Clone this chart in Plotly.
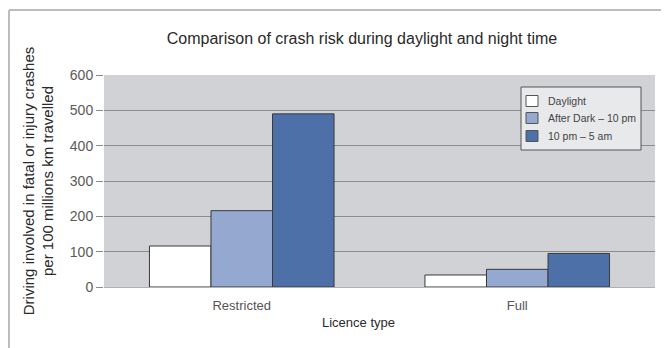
import plotly.graph_objects as go

categories = ["Restricted", "Full"]
series_names = ["Daylight", "After Dark – 10 pm", "10 pm – 5 am"]
daylight = [116, 34]
after_dark = [216, 50]
night = [490, 95]
colors = ["#ffffff", "#94a8d0", "#4e70a8"]

OFF = 8  # page body margin
W, H = 669 - OFF, 348 - OFF
# plot area in window pixels: x 104..655, y 75..287
PX0, PX1, PY0, PY1 = 104 - OFF, 655 - OFF, 75 - OFF, 287 - OFF
L, R, T, B = PX0, W - PX1, PY0, H - PY1
pw = PX1 - PX0
ph = PY1 - PY0


def px(x):
    return (x - OFF - PX0) / pw


def py(y):
    return (PY1 - (y - OFF)) / ph


fig = go.Figure()
for name, vals, c in zip(series_names, [daylight, after_dark, night], colors):
    fig.add_trace(go.Bar(x=categories, y=vals, name=name,
                         marker=dict(color=c, line=dict(color="#3a3a3a", width=1))))

fig.update_layout(
    width=W, height=H,
    margin=dict(l=L, r=R, t=T, b=B, autoexpand=False),
    paper_bgcolor="white", plot_bgcolor="#d1d2d6",
    barmode="group", bargap=0.33, bargroupgap=0,
    font=dict(family="Liberation Sans, Arial, sans-serif", color="#333333"),
    title=dict(text="Comparison of crash risk during daylight and night time",
               x=(362 - OFF) / W, xanchor="center", y=1 - (38 - OFF) / H, yanchor="middle",
               font=dict(size=16, color="#2a2a2a")),
    showlegend=False,
    xaxis=dict(tickfont=dict(size=13, color="#555555"), showgrid=False,
               showline=True, linecolor="#b0b0b0", linewidth=1, ticks="",
               ticklabelstandoff=6),
    yaxis=dict(range=[0, 600], dtick=100,
               title=dict(text="Driving involved in fatal or injury crashes<br>per 100 millions km travelled",
                          font=dict(size=15, color="#2a2a2a"), standoff=12),
               tickfont=dict(size=14, color="#5a5a5a"),
               showgrid=True, gridcolor="#8c8c8c", gridwidth=1,
               ticks="outside", ticklen=7, tickcolor="#8c8c8c",
               zeroline=False, showline=False),
)

# x-axis title (centred on the whole chart, as in the original)
fig.add_annotation(text="Licence type", xref="paper", yref="paper",
                   x=px(358), y=py(322), xanchor="center", yanchor="middle",
                   showarrow=False, font=dict(size=13, color="#2a2a2a"))

# legend box drawn to match the original's compact layout
fig.add_shape(type="rect", xref="paper", yref="paper",
              x0=px(521), x1=px(641), y0=py(150), y1=py(87),
              fillcolor="#e8e9eb", line=dict(color="#555555", width=1), layer="above")
legend_rows = [101, 118, 136]
for name, c, yc in zip(series_names, colors, legend_rows):
    fig.add_shape(type="rect", xref="paper", yref="paper",
                  x0=px(526), x1=px(538), y0=py(yc + 5.5), y1=py(yc - 5.5),
                  fillcolor=c, line=dict(color="#555555", width=1), layer="above")
    fig.add_annotation(text=name, xref="paper", yref="paper",
                       x=px(546), y=py(yc), xanchor="left", yanchor="middle",
                       showarrow=False, font=dict(size=10.5, color="#444444"))

# outer frame (top and left border)
fig.add_shape(type="line", xref="paper", yref="paper",
              x0=px(9), x1=px(680), y0=py(10), y1=py(10),
              line=dict(color="#bdbdbd", width=2))
fig.add_shape(type="line", xref="paper", yref="paper",
              x0=px(9), x1=px(9), y0=py(10), y1=py(360),
              line=dict(color="#bdbdbd", width=2))

fig.write_html("out.html")
